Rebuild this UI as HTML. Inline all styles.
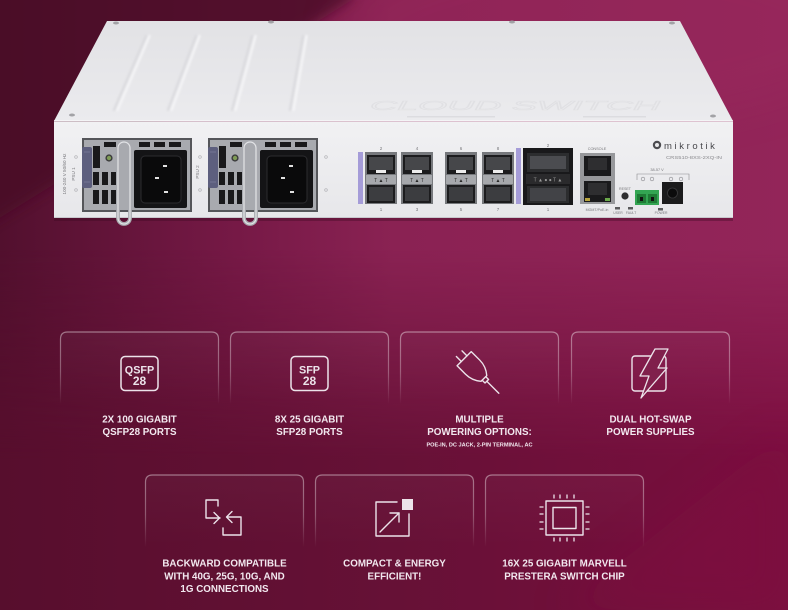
<!DOCTYPE html>
<html><head><meta charset="utf-8">
<style>
html,body{margin:0;padding:0;background:#6a1639;width:788px;height:610px;overflow:hidden}
svg{display:block}
</style></head>
<body>
<svg width="788" height="610" viewBox="0 0 788 610" xmlns="http://www.w3.org/2000/svg" font-family="Liberation Sans, DejaVu Sans, sans-serif">
<defs>
  <linearGradient id="gTop" x1="0" y1="0" x2="1" y2="0">
    <stop offset="0" stop-color="#52102e"/>
    <stop offset="0.3" stop-color="#761946"/>
    <stop offset="0.5" stop-color="#8a2253"/>
    <stop offset="1" stop-color="#932559"/>
  </linearGradient>
  <linearGradient id="gBot" x1="0" y1="0" x2="1" y2="0">
    <stop offset="0" stop-color="#570e2d"/>
    <stop offset="0.5" stop-color="#661136"/>
    <stop offset="1" stop-color="#7b0e3f"/>
  </linearGradient>
  <linearGradient id="fadeG" gradientUnits="userSpaceOnUse" x1="0" y1="250" x2="0" y2="460">
    <stop offset="0" stop-color="#fff" stop-opacity="0"/>
    <stop offset="1" stop-color="#fff" stop-opacity="1"/>
  </linearGradient>
  <mask id="mBot"><rect width="788" height="610" fill="url(#fadeG)"/></mask>
  <filter id="blur6" x="-20%" y="-20%" width="140%" height="140%"><feGaussianBlur stdDeviation="6"/></filter>
  <filter id="blur20" x="-50%" y="-50%" width="200%" height="200%"><feGaussianBlur stdDeviation="20"/></filter>
  <filter id="blur1" x="-50%" y="-10%" width="200%" height="120%"><feGaussianBlur stdDeviation="1"/></filter>
  <linearGradient id="cardStroke" x1="0" y1="0" x2="0" y2="1">
    <stop offset="0" stop-color="#fff" stop-opacity="0.42"/>
    <stop offset="0.55" stop-color="#fff" stop-opacity="0.3"/>
    <stop offset="1" stop-color="#fff" stop-opacity="0"/>
  </linearGradient>
  <linearGradient id="cardFill" x1="0" y1="0" x2="0" y2="1">
    <stop offset="0" stop-color="#fff" stop-opacity="0.03"/>
    <stop offset="1" stop-color="#fff" stop-opacity="0"/>
  </linearGradient>
  <linearGradient id="topSurf" x1="0" y1="0" x2="0" y2="1">
    <stop offset="0" stop-color="#e2e2e5"/>
    <stop offset="1" stop-color="#ebebee"/>
  </linearGradient>
  <linearGradient id="frontFace" x1="0" y1="0" x2="0" y2="1">
    <stop offset="0" stop-color="#f1f1f3"/>
    <stop offset="1" stop-color="#e7e7ea"/>
  </linearGradient>
</defs>

<!-- background -->
<rect width="788" height="610" fill="url(#gTop)"/>
<rect width="788" height="610" fill="url(#gBot)" mask="url(#mBot)"/>
<polygon points="-20,-20 352,-20 352,0 240,70 -20,230" fill="#480925" opacity="0.8" filter="url(#blur6)"/>
<ellipse cx="600" cy="30" rx="260" ry="90" fill="#9c2a5f" opacity="0.35" filter="url(#blur20)"/>
<polygon points="560,610 788,430 788,610" fill="#82103f" opacity="0.35" filter="url(#blur20)"/>

<!-- ============ DEVICE ============ -->
<rect x="54" y="218" width="679" height="3" fill="#3a0a20" opacity="0.35"/>
<polygon points="107,21 680,21 733,121 54,121" fill="url(#topSurf)"/>
<!-- grooves -->
<g stroke-linecap="round" filter="url(#blur1)">
  <line x1="146" y1="36" x2="114" y2="110" stroke="#d9d9dd" stroke-width="2.2"/>
  <line x1="149.5" y1="36" x2="117.5" y2="110" stroke="#f6f6f8" stroke-width="2.2"/>
  <line x1="196" y1="36" x2="168" y2="110" stroke="#d9d9dd" stroke-width="2.2"/>
  <line x1="199.5" y1="36" x2="171.5" y2="110" stroke="#f6f6f8" stroke-width="2.2"/>
  <line x1="252" y1="36" x2="232" y2="110" stroke="#d9d9dd" stroke-width="2.2"/>
  <line x1="255.5" y1="36" x2="235.5" y2="110" stroke="#f6f6f8" stroke-width="2.2"/>
  <line x1="303" y1="36" x2="290" y2="110" stroke="#d9d9dd" stroke-width="2.2"/>
  <line x1="306.5" y1="36" x2="293.5" y2="110" stroke="#f6f6f8" stroke-width="2.2"/>
</g>
<text x="370" y="110" font-size="13" font-style="italic" fill="none" stroke="#e0e0e3" stroke-width="0.6" textLength="290" lengthAdjust="spacingAndGlyphs">CLOUD SWITCH</text>
<rect x="407" y="116" width="88" height="1.5" fill="#dcdce0"/>
<rect x="583" y="116" width="63" height="1.5" fill="#dcdce0"/>
<!-- screws -->
<g fill="#a2a2a6">
  <ellipse cx="116" cy="23" rx="3" ry="1.5"/>
  <ellipse cx="271" cy="22" rx="3" ry="1.5"/>
  <ellipse cx="512" cy="22" rx="3" ry="1.5"/>
  <ellipse cx="672" cy="23" rx="3" ry="1.5"/>
  <ellipse cx="72" cy="115" rx="3" ry="1.5"/>
  <ellipse cx="713" cy="116" rx="3" ry="1.5"/>
</g>
<line x1="54" y1="121" x2="733" y2="121" stroke="#f8f8f9" stroke-width="1.5"/>
<!-- front face -->
<rect x="54" y="122" width="679" height="96" fill="url(#frontFace)"/>
<line x1="54" y1="217.5" x2="733" y2="217.5" stroke="#c8c8cc" stroke-width="1"/>

<!-- left labels -->
<text transform="translate(66,174) rotate(-90)" font-size="4.6" text-anchor="middle" fill="#77777b">100-240 V  50/60 Hz</text>
<text transform="translate(75,174) rotate(-90)" font-size="4.6" text-anchor="middle" fill="#77777b">PSU 1</text>
<text transform="translate(199,172) rotate(-90)" font-size="4.6" text-anchor="middle" fill="#77777b">PSU 2</text>
<g fill="none" stroke="#b0b0b4" stroke-width="0.7">
  <circle cx="76" cy="157" r="1.3"/><circle cx="76" cy="190" r="1.3"/>
  <circle cx="200" cy="157" r="1.3"/><circle cx="200" cy="190" r="1.3"/>
  <circle cx="326" cy="157" r="1.3"/><circle cx="326" cy="190" r="1.3"/>
</g>

<!-- PSU -->
<g id="psu">
  <rect x="82" y="138" width="110" height="74" fill="#55565a"/>
  <rect x="84" y="140" width="106" height="70" fill="#a8aaaf"/>
  <g fill="#19191b">
    <rect x="104" y="142" width="12" height="5"/>
    <rect x="139" y="142" width="11" height="5"/>
    <rect x="154" y="142" width="11" height="5"/>
    <rect x="169" y="142" width="12" height="5"/>
    <rect x="93" y="146" width="7" height="22"/>
    <rect x="93" y="172" width="6" height="13"/>
    <rect x="102" y="172" width="6" height="13"/>
    <rect x="111" y="172" width="5" height="13"/>
    <rect x="93" y="190" width="6" height="14"/>
    <rect x="102" y="190" width="6" height="14"/>
    <rect x="111" y="190" width="5" height="14"/>
  </g>
  <rect x="134" y="150" width="53" height="58" rx="2" fill="#141416"/>
  <rect x="141" y="156" width="40" height="47" rx="4" fill="#0a0a0b" stroke="#2c2c2f" stroke-width="1"/>
  <g fill="#e2e2e2">
    <rect x="163" y="165" width="4" height="2"/>
    <rect x="155" y="177" width="4" height="2"/>
    <rect x="164" y="191" width="4" height="2"/>
  </g>
  <rect x="82" y="147" width="10" height="41" rx="2" fill="#5d5f7e"/>
  <line x1="84" y1="152" x2="90" y2="152" stroke="#7a7c9a" stroke-width="0.8"/>
  <line x1="84" y1="182" x2="90" y2="182" stroke="#7a7c9a" stroke-width="0.8"/>
  <circle cx="109" cy="158" r="3.6" fill="#3a3a3c"/>
  <circle cx="109" cy="158" r="2.2" fill="#7e9b56"/>
  <rect x="118" y="142" width="12" height="82" rx="6" fill="none" stroke="#a9abb0" stroke-width="3.8"/>
  <rect x="118" y="142" width="12" height="82" rx="6" fill="none" stroke="#e3e4e7" stroke-width="1.2"/>
</g>
<use href="#psu" x="126" y="0"/>

<!-- SFP strips -->
<rect x="358" y="152" width="5" height="52" fill="#a59cd8"/>
<rect x="516" y="148" width="5" height="56" fill="#a59cd8"/>

<!-- SFP cages -->
<g id="cage">
  <rect x="365" y="152" width="32" height="52" fill="#76787c"/>
  <rect x="367" y="155" width="28" height="19" fill="#1c1c1e"/>
  <rect x="369" y="157" width="24" height="13" fill="#46474a"/>
  <rect x="376" y="170" width="10" height="3" fill="#ececec"/>
  <rect x="366" y="175" width="30" height="9" fill="#a6a8ac"/>
  <text x="381" y="182" font-size="5" text-anchor="middle" fill="#2a2a2a">T ▲ T</text>
  <rect x="367" y="185" width="28" height="18" fill="#1c1c1e"/>
  <rect x="369" y="187" width="24" height="14" fill="#3c3d40"/>
</g>
<use href="#cage" x="36"/>
<use href="#cage" x="80"/>
<use href="#cage" x="117"/>
<g font-size="4.5" fill="#77777b" text-anchor="middle">
  <text x="381" y="150">2</text><text x="417" y="150">4</text>
  <text x="461" y="150">6</text><text x="498" y="150">8</text>
  <text x="381" y="211">1</text><text x="417" y="211">3</text>
  <text x="461" y="211">5</text><text x="498" y="211">7</text>
  <text x="548" y="147">2</text><text x="548" y="211">1</text>
</g>

<!-- QSFP -->
<rect x="523" y="148" width="50" height="57" fill="#19191b"/>
<rect x="527" y="153" width="42" height="19" fill="#2c2d2f"/>
<rect x="530" y="156" width="36" height="13" fill="#4b4c50"/>
<rect x="526" y="174" width="44" height="10" fill="#2a2a2c"/>
<text x="548" y="181.5" font-size="5" text-anchor="middle" fill="#9a9a9a">T ▲ ● ● T ▲</text>
<rect x="527" y="186" width="42" height="17" fill="#2c2d2f"/>
<rect x="530" y="188" width="36" height="13" fill="#424347"/>

<!-- console & mgmt -->
<text x="597" y="150" font-size="3.8" text-anchor="middle" fill="#77777b">CONSOLE</text>
<rect x="580" y="153" width="35" height="51" fill="#97989b"/>
<rect x="584" y="156" width="27" height="20" fill="#1a1a1c"/>
<rect x="588" y="158" width="19" height="12" fill="#2e2e30"/>
<rect x="584" y="181" width="27" height="21" fill="#1a1a1c"/>
<rect x="588" y="183" width="19" height="12" fill="#2e2e30"/>
<rect x="585" y="198" width="5" height="3" fill="#b7a43e"/>
<rect x="605" y="198" width="5" height="3" fill="#6aa84a"/>
<text x="597" y="211" font-size="3.6" text-anchor="middle" fill="#77777b">MGMT/PoE-in</text>

<!-- reset & leds -->
<text x="625" y="190" font-size="3.6" text-anchor="middle" fill="#77777b">RESET</text>
<circle cx="625" cy="196" r="3.6" fill="#2e2e30"/>
<rect x="615" y="207" width="5" height="2.5" fill="#5a5a5c"/>
<rect x="628" y="207" width="5" height="2.5" fill="#5a5a5c"/>
<rect x="658" y="208" width="5" height="2.5" fill="#5a5a5c"/>
<g font-size="3.4" fill="#77777b" text-anchor="middle">
  <text x="618" y="214">USER</text><text x="631" y="214">FAULT</text><text x="661" y="214">POWER</text>
</g>

<!-- power input -->
<text x="657" y="171" font-size="3.8" text-anchor="middle" fill="#77777b">38-57 V</text>
<path d="M637,180 V174 H689 V180" fill="none" stroke="#8a8a8e" stroke-width="0.6"/>
<g fill="none" stroke="#8a8a8e" stroke-width="0.6">
  <circle cx="643" cy="179" r="1.8"/><circle cx="652" cy="179" r="1.8"/>
  <circle cx="671" cy="179" r="1.8"/><circle cx="681" cy="179" r="1.8"/>
</g>
<rect x="635" y="190" width="24" height="15" fill="#33a552"/>
<rect x="637" y="194" width="9" height="9" fill="#1f7a35"/>
<rect x="648" y="194" width="9" height="9" fill="#1f7a35"/>
<rect x="640" y="197" width="3" height="4" fill="#111"/>
<rect x="651" y="197" width="3" height="4" fill="#111"/>
<rect x="662" y="182" width="21" height="22" fill="#1b1b1c"/>
<circle cx="672.5" cy="193" r="5" fill="#0b0b0c" stroke="#3a3a3c" stroke-width="0.8"/>

<!-- logo -->
<circle cx="657" cy="145" r="4.2" fill="#4c4c50"/>
<circle cx="657" cy="145" r="2" fill="#e8e8ea"/>
<text x="664" y="149" font-size="9.5" letter-spacing="2.6" fill="#48484c">mikrotik</text>
<text x="666" y="159" font-size="4.4" fill="#8a8a8e" textLength="56" lengthAdjust="spacingAndGlyphs">CRS510-8XS-2XQ-IN</text>

<!-- ============ CARDS ============ -->
<g fill="url(#cardFill)" stroke="url(#cardStroke)" stroke-width="1.2">
  <path d="M60.5,404 V339 Q60.5,332 67.5,332 H211.5 Q218.5,332 218.5,339 V404"/>
  <path d="M230.5,404 V339 Q230.5,332 237.5,332 H381.5 Q388.5,332 388.5,339 V404"/>
  <path d="M400.5,404 V339 Q400.5,332 407.5,332 H551.5 Q558.5,332 558.5,339 V404"/>
  <path d="M571.5,404 V339 Q571.5,332 578.5,332 H722.5 Q729.5,332 729.5,339 V404"/>
  <path d="M145.5,547 V482 Q145.5,475 152.5,475 H296.5 Q303.5,475 303.5,482 V547"/>
  <path d="M315.5,547 V482 Q315.5,475 322.5,475 H466.5 Q473.5,475 473.5,482 V547"/>
  <path d="M485.5,547 V482 Q485.5,475 492.5,475 H636.5 Q643.5,475 643.5,482 V547"/>
</g>

<!-- icons -->
<g stroke="#ece3ea" fill="none" stroke-width="1.5" stroke-linecap="round" stroke-linejoin="round">
  <!-- QSFP28 -->
  <rect x="121" y="356.5" width="37" height="34" rx="4"/>
  <!-- SFP28 -->
  <rect x="291" y="356.5" width="37" height="34" rx="4"/>
  <!-- plug -->
  <g transform="translate(479,373.5) rotate(-45)" stroke-width="1.4">
    <line x1="-4" y1="-28" x2="-4" y2="-21"/>
    <line x1="4" y1="-28" x2="4" y2="-21"/>
    <path d="M-10,-21 H10 V-9 Q10,0 4,7 H-4 Q-10,0 -10,-9 Z"/>
    <path d="M-2.5,7 V11 H2.5 V7"/>
    <line x1="0" y1="11" x2="0" y2="28"/>
  </g>
  <!-- hot swap -->
  <rect x="632" y="356" width="34" height="35" rx="3" stroke-width="1.4"/>
  <polygon points="655,349 668,349 658,368 667,368 641,398 649,376 640,376" fill="#80204c" stroke-width="1.3"/>
  <!-- backward compatible -->
  <path d="M218,506 V500 H206 V518 H220" stroke-width="1.4"/>
  <path d="M214,512.5 L219.5,518 L214,523.5" stroke-width="1.4"/>
  <path d="M223,528 V535 H241 V517 H227" stroke-width="1.4"/>
  <path d="M232,511.5 L226.5,517 L232,522.5" stroke-width="1.4"/>
  <!-- compact -->
  <path d="M397,502 H376 V536 H409 V514" stroke-width="1.4"/>
  <line x1="380" y1="532" x2="399" y2="513" stroke-width="1.4"/>
  <path d="M390,513 H399 V522" stroke-width="1.4"/>
  <!-- chip -->
  <rect x="546" y="501" width="37" height="34" stroke-width="1.4"/>
  <rect x="553" y="507.5" width="23" height="21" stroke-width="1.4"/>
  <g stroke-width="1.3">
    <line x1="554" y1="495" x2="554" y2="498"/><line x1="560" y1="495" x2="560" y2="498"/>
    <line x1="567" y1="495" x2="567" y2="498"/><line x1="574" y1="495" x2="574" y2="498"/>
    <line x1="554" y1="538" x2="554" y2="541"/><line x1="560" y1="538" x2="560" y2="541"/>
    <line x1="567" y1="538" x2="567" y2="541"/><line x1="574" y1="538" x2="574" y2="541"/>
    <line x1="540" y1="507" x2="543" y2="507"/><line x1="540" y1="514" x2="543" y2="514"/>
    <line x1="540" y1="522" x2="543" y2="522"/><line x1="540" y1="529" x2="543" y2="529"/>
    <line x1="586" y1="507" x2="589" y2="507"/><line x1="586" y1="514" x2="589" y2="514"/>
    <line x1="586" y1="522" x2="589" y2="522"/><line x1="586" y1="529" x2="589" y2="529"/>
  </g>
</g>
<rect x="402" y="499" width="11" height="11" fill="#ece3ea"/>
<g fill="#ece3ea" font-weight="bold" text-anchor="middle">
  <text x="139.5" y="373.5" font-size="10.8">QSFP</text>
  <text x="139.5" y="385" font-size="12">28</text>
  <text x="309.5" y="373.5" font-size="10.8">SFP</text>
  <text x="309.5" y="385" font-size="12">28</text>
</g>

<!-- labels -->
<g fill="#f2e8ef" font-weight="bold" text-anchor="middle" font-size="9.8">
  <text x="139.5" y="422.5">2X 100 GIGABIT</text>
  <text x="139.5" y="435">QSFP28 PORTS</text>
  <text x="309.5" y="422.5">8X 25 GIGABIT</text>
  <text x="309.5" y="435">SFP28 PORTS</text>
  <text x="479.5" y="422.5">MULTIPLE</text>
  <text x="479.5" y="435">POWERING OPTIONS:</text>
  <text x="479.5" y="446.7" font-size="5.6">POE-IN, DC JACK, 2-PIN TERMINAL, AC</text>
  <text x="650.5" y="422.5">DUAL HOT-SWAP</text>
  <text x="650.5" y="435">POWER SUPPLIES</text>
  <text x="224.5" y="566.7">BACKWARD COMPATIBLE</text>
  <text x="224.5" y="579.3">WITH 40G, 25G, 10G, AND</text>
  <text x="224.5" y="592">1G CONNECTIONS</text>
  <text x="394.5" y="566.7">COMPACT &amp; ENERGY</text>
  <text x="394.5" y="579.3">EFFICIENT!</text>
  <text x="564.5" y="566.7">16X 25 GIGABIT MARVELL</text>
  <text x="564.5" y="579.3">PRESTERA SWITCH CHIP</text>
</g>
</svg>
</body></html>
